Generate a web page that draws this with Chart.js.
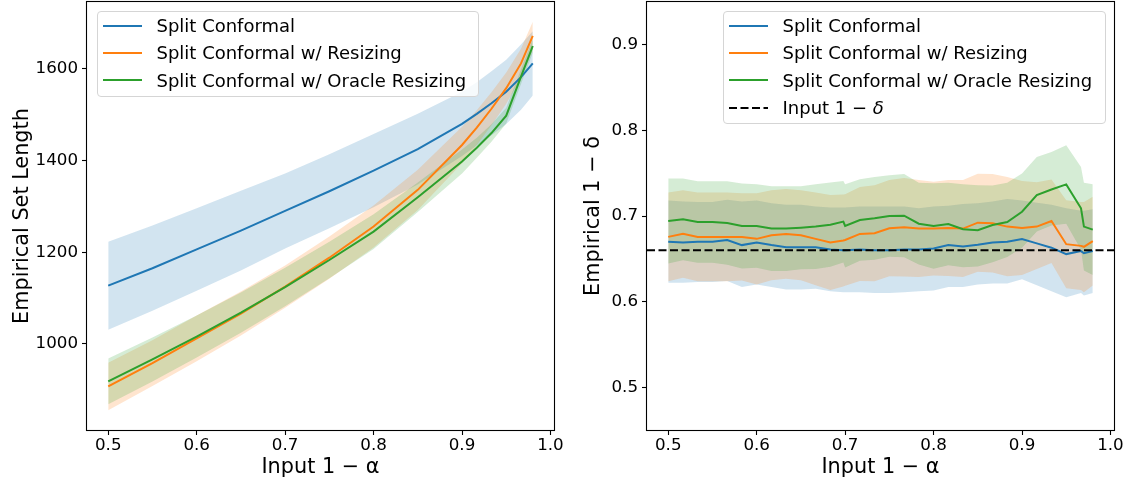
<!DOCTYPE html>
<html>
<head>
<meta charset="utf-8">
<script src="https://cdn.jsdelivr.net/npm/chart.js@4.4.1/dist/chart.umd.min.js"></script>
<style>
  body { margin: 0; background: #fff; font-family: "DejaVu Sans", sans-serif; }
  #wrap { position: relative; width: 1131px; height: 480px; overflow: hidden; }
  canvas { position: absolute; top: 0; }
  .legend { position: absolute; box-sizing: border-box; border: 1px solid #d5d5d5; border-radius: 4px;
            background: rgba(255,255,255,0.8); font-size: 18px; color: #000; }
  .legend .row { display: flex; align-items: center; height: 27.3px; padding-left: 5px; white-space: nowrap; }
  .legend svg { margin-right: 14.5px; flex: none; }
</style>
</head>
<body>
<div id="wrap">
  <canvas id="left" width="565" height="480" style="left:0"></canvas>
  <canvas id="right" width="566" height="480" style="left:565px"></canvas>
  <div class="legend" id="legend-left" style="left:97px;top:11px;width:382px;height:86px"></div>
  <div class="legend" id="legend-right" style="left:723px;top:11px;width:383px;height:113px"></div>
</div>
<script>
// axis limits and ticks
const X_MIN = 0.476, X_MAX = 1.004;
const xTickValues = [0.5, 0.6, 0.7, 0.8, 0.9, 1.0];
const leftYMin = 812, leftYMax = 1746;
const leftYTicks = [1000, 1200, 1400, 1600];
const rightYMin = 0.45, rightYMax = 0.95;
const rightYTicks = [0.5, 0.6, 0.7, 0.8, 0.9];
const targetLevel = 0.66; // input 1 - delta

const seriesNames = ["Split Conformal", "Split Conformal w/ Resizing", "Split Conformal w/ Oracle Resizing"];

// left panel: empirical set length
const leftX = [0.5, 0.55, 0.6, 0.65, 0.7, 0.75, 0.8, 0.85, 0.9, 0.9167, 0.9333, 0.95, 0.9667, 0.98];
const lenSplit     = [1127, 1165, 1206, 1247, 1290, 1333, 1378, 1425, 1480, 1502, 1525, 1550, 1582, 1612];
const lenSplitLo   = [1031, 1072, 1116, 1160, 1208, 1252, 1298, 1348, 1410, 1433, 1455, 1480, 1511, 1542];
const lenSplitHi   = [1223, 1258, 1296, 1334, 1372, 1414, 1458, 1502, 1550, 1571, 1595, 1620, 1653, 1682];
const lenResize    = [907, 958, 1012, 1066, 1125, 1188, 1256, 1336, 1434, 1472, 1513, 1558, 1612, 1672];
const lenResizeLo  = [855, 908, 962, 1018, 1079, 1142, 1210, 1292, 1394, 1434, 1477, 1524, 1580, 1641];
const lenResizeHi  = [959, 1008, 1062, 1114, 1171, 1234, 1302, 1380, 1474, 1510, 1549, 1592, 1644, 1703];
const lenOracle    = [918, 966, 1016, 1068, 1124, 1183, 1245, 1320, 1398, 1428, 1460, 1498, 1583, 1650];
const lenOracleLo  = [868, 918, 970, 1024, 1082, 1143, 1207, 1288, 1372, 1406, 1441, 1481, 1567, 1635];
const lenOracleHi  = [968, 1014, 1062, 1112, 1166, 1223, 1283, 1352, 1424, 1450, 1479, 1515, 1599, 1665];

// right panel: empirical 1 - delta
const rightX = [0.5, 0.5167, 0.5333, 0.55, 0.5667, 0.5833, 0.6, 0.6167, 0.6333, 0.65, 0.6667, 0.6833, 0.698, 0.7,
                0.7167, 0.7333, 0.75, 0.7667, 0.7833, 0.8, 0.8167, 0.8333, 0.85, 0.8667, 0.8833, 0.9, 0.9167, 0.9333,
                0.95, 0.9667, 0.97, 0.98];
const covSplit    = [0.670, 0.669, 0.670, 0.670, 0.672, 0.666, 0.669, 0.666, 0.6635, 0.6635, 0.6635, 0.661, 0.660, 0.660,
                     0.661, 0.660, 0.660, 0.661, 0.661, 0.662, 0.666, 0.6645, 0.6665, 0.669, 0.670, 0.673, 0.668, 0.663,
                     0.6555, 0.659, 0.6565, 0.659];
const covSplitHi  = [0.718, 0.717, 0.7165, 0.7165, 0.719, 0.717, 0.718, 0.715, 0.713, 0.713, 0.711, 0.710, 0.710, 0.710,
                     0.711, 0.711, 0.711, 0.711, 0.709, 0.711, 0.712, 0.714, 0.715, 0.717, 0.720, 0.718, 0.7155, 0.713,
                     0.709, 0.706, 0.706, 0.708];
const covSplitLo  = [0.622, 0.622, 0.623, 0.623, 0.624, 0.617, 0.620, 0.617, 0.614, 0.614, 0.615, 0.612, 0.611, 0.611,
                     0.611, 0.610, 0.610, 0.611, 0.612, 0.613, 0.617, 0.617, 0.620, 0.621, 0.621, 0.626, 0.619, 0.612,
                     0.605, 0.610, 0.607, 0.610];
const covResize   = [0.6756, 0.6791, 0.6756, 0.6756, 0.6756, 0.6756, 0.6733, 0.6775, 0.6791, 0.6775, 0.6733, 0.669, 0.6713, 0.672,
                     0.6791, 0.6799, 0.6857, 0.6869, 0.6853, 0.6853, 0.686, 0.6853, 0.6922, 0.6915, 0.6876, 0.686, 0.6876, 0.6942,
                     0.6671, 0.6651, 0.664, 0.6706];
const covResizeHi = [0.7275, 0.730, 0.7275, 0.7275, 0.7275, 0.7265, 0.7265, 0.730, 0.7315, 0.730, 0.7275, 0.7245, 0.725, 0.7255,
                     0.734, 0.736, 0.742, 0.7445, 0.742, 0.740, 0.742, 0.742, 0.7495, 0.749, 0.7455, 0.741, 0.7395, 0.7425,
                     0.7185, 0.7165, 0.7165, 0.7225];
const covResizeLo = [0.6237, 0.628, 0.6237, 0.6237, 0.6237, 0.6247, 0.620, 0.625, 0.6267, 0.625, 0.619, 0.6135, 0.6175, 0.6185,
                     0.624, 0.6238, 0.6295, 0.6293, 0.6287, 0.6306, 0.630, 0.6287, 0.6348, 0.634, 0.6295, 0.631, 0.638, 0.645,
                     0.6155, 0.6135, 0.611, 0.6187];
const covOracle   = [0.6942, 0.6961, 0.693, 0.693, 0.6919, 0.6884, 0.6884, 0.6853, 0.6853, 0.6864, 0.6876, 0.6899, 0.6934, 0.6884,
                     0.6953, 0.6973, 0.700, 0.7004, 0.691, 0.6884, 0.6907, 0.6845, 0.6833, 0.6895, 0.693, 0.705, 0.7244, 0.731,
                     0.7369, 0.709, 0.6876, 0.6841];
const covOracleHi = [0.7438, 0.7438, 0.7407, 0.7407, 0.7407, 0.738, 0.7372, 0.7349, 0.7349, 0.7349, 0.737, 0.739, 0.741, 0.737,
                     0.743, 0.7457, 0.7477, 0.749, 0.7388, 0.7384, 0.7388, 0.737, 0.736, 0.7357, 0.7388, 0.7496, 0.769, 0.7748,
                     0.7826, 0.7573, 0.7388, 0.7372];
const covOracleLo = [0.6446, 0.6484, 0.6453, 0.6453, 0.6431, 0.6388, 0.6396, 0.6357, 0.6357, 0.6379, 0.6382, 0.6408, 0.6458, 0.6398,
                     0.6476, 0.6489, 0.6523, 0.6518, 0.6432, 0.6384, 0.6426, 0.640, 0.641, 0.646, 0.652, 0.663, 0.682, 0.689,
                     0.691, 0.6607, 0.6364, 0.631];

const colors = ["#1f77b4", "#ff7f0e", "#2ca02c"];
const fills = ["rgba(31,119,180,0.2)", "rgba(255,127,14,0.2)", "rgba(44,160,44,0.2)"];

Chart.defaults.font.family = '"DejaVu Sans", sans-serif';
Chart.defaults.color = "#000";

function pts(xs, ys) {
  return xs.map((x, i) => ({ x: x, y: ys[i] }));
}

function lineSet(xs, ys, color, order) {
  return { data: pts(xs, ys), borderColor: color, borderWidth: 2, pointRadius: 0, tension: 0, fill: false, order: order };
}

function bandSets(xs, lo, hi, fillColor, order) {
  return [
    { data: pts(xs, lo), borderColor: "rgba(0,0,0,0)", borderWidth: 0, pointRadius: 0, fill: false, order: order },
    { data: pts(xs, hi), borderColor: "rgba(0,0,0,0)", borderWidth: 0, pointRadius: 0, fill: "-1",
      backgroundColor: fillColor, order: order }
  ];
}

// box round the plot area, like the matplotlib spines
const framePlugin = {
  id: "frame",
  afterDraw(chart) {
    const a = chart.chartArea, ctx = chart.ctx;
    ctx.save();
    ctx.strokeStyle = "#000";
    ctx.lineWidth = 1.1;
    ctx.strokeRect(Math.round(a.left) - 0.5, Math.round(a.top) - 0.5,
                   Math.round(a.right - a.left) + 1, Math.round(a.bottom - a.top) + 1);
    ctx.restore();
  }
};

function xAxis() {
  return {
    type: "linear", min: X_MIN, max: X_MAX,
    afterBuildTicks: s => { s.ticks = xTickValues.map(v => ({ value: v })); },
    afterFit: s => { s.height = 50; s.paddingLeft = 0; s.paddingRight = 0; },
    ticks: { callback: v => v.toFixed(1), font: { size: 16.7 }, color: "#000", padding: 1, maxRotation: 0, autoSkip: false },
    grid: { drawOnChartArea: false, drawTicks: true, tickLength: 5, tickColor: "#000", tickWidth: 1.1 },
    border: { display: false },
    title: { display: true, text: "Input 1 \u2212 \u03b1", font: { size: 20.8 }, color: "#000", padding: { top: 0, bottom: 0 } }
  };
}

function yAxis(min, max, tickValues, fmt, title, width, titlePad) {
  return {
    type: "linear", min: min, max: max,
    afterBuildTicks: s => { s.ticks = tickValues.map(v => ({ value: v })); },
    afterFit: s => { s.width = width; s.paddingTop = 0; s.paddingBottom = 0; },
    ticks: { callback: fmt, font: { size: 16.7 }, color: "#000", padding: 4, autoSkip: false },
    grid: { drawOnChartArea: false, drawTicks: true, tickLength: 5, tickColor: "#000", tickWidth: 1.1 },
    border: { display: false },
    title: { display: true, text: title, font: { size: 20.8 }, color: "#000", padding: { top: titlePad, bottom: 0 } }
  };
}

function baseOptions(padRight, yOpts) {
  return {
    responsive: false,
    animation: false,
    devicePixelRatio: 1,
    events: [],
    layout: { padding: { left: 0, right: padRight, top: 2, bottom: 0 } },
    plugins: { legend: { display: false }, tooltip: { enabled: false } },
    scales: { x: xAxis(), y: yOpts }
  };
}

// left chart
new Chart(document.getElementById("left"), {
  type: "line",
  data: {
    datasets: [
      lineSet(leftX, lenOracle, colors[2], 3),
      lineSet(leftX, lenResize, colors[1], 4),
      lineSet(leftX, lenSplit, colors[0], 5),
      ...bandSets(leftX, lenOracleLo, lenOracleHi, fills[2], 10),
      ...bandSets(leftX, lenResizeLo, lenResizeHi, fills[1], 20),
      ...bandSets(leftX, lenSplitLo, lenSplitHi, fills[0], 30)
    ]
  },
  options: baseOptions(11, yAxis(leftYMin, leftYMax, leftYTicks, v => String(v), "Empirical Set Length", 87, 10.5)),
  plugins: [framePlugin]
});

// right chart
new Chart(document.getElementById("right"), {
  type: "line",
  data: {
    datasets: [
      { data: [{ x: X_MIN, y: targetLevel }, { x: X_MAX, y: targetLevel }], borderColor: "#000", borderWidth: 2,
        borderDash: [8, 3.5], pointRadius: 0, fill: false, order: 0 },
      lineSet(rightX, covOracle, colors[2], 3),
      lineSet(rightX, covResize, colors[1], 4),
      lineSet(rightX, covSplit, colors[0], 5),
      ...bandSets(rightX, covOracleLo, covOracleHi, fills[2], 10),
      ...bandSets(rightX, covResizeLo, covResizeHi, fills[1], 20),
      ...bandSets(rightX, covSplitLo, covSplitHi, fills[0], 30)
    ]
  },
  options: baseOptions(17, yAxis(rightYMin, rightYMax, rightYTicks, v => v.toFixed(1), "Empirical 1 \u2212 \u03b4", 82, 16.5)),
  plugins: [framePlugin]
});

// legends, drawn inside the axes like matplotlib does
function buildLegend(id, items) {
  const box = document.getElementById(id);
  items.forEach(it => {
    const row = document.createElement("div");
    row.className = "row";
    const dash = it.dash ? ' stroke-dasharray="8 3.5"' : "";
    row.innerHTML = '<svg width="39" height="6"><line x1="0" y1="3" x2="39" y2="3" stroke="' + it.color +
      '" stroke-width="2"' + dash + '/></svg><span>' + it.label + "</span>";
    box.appendChild(row);
  });
}

const legendItems = seriesNames.map((n, i) => ({ label: n, color: colors[i] }));
buildLegend("legend-left", legendItems);
buildLegend("legend-right", legendItems.concat([{ label: "Input 1 \u2212 <i>\u03b4</i>", color: "#000", dash: true }]));
</script>
</body>
</html>
